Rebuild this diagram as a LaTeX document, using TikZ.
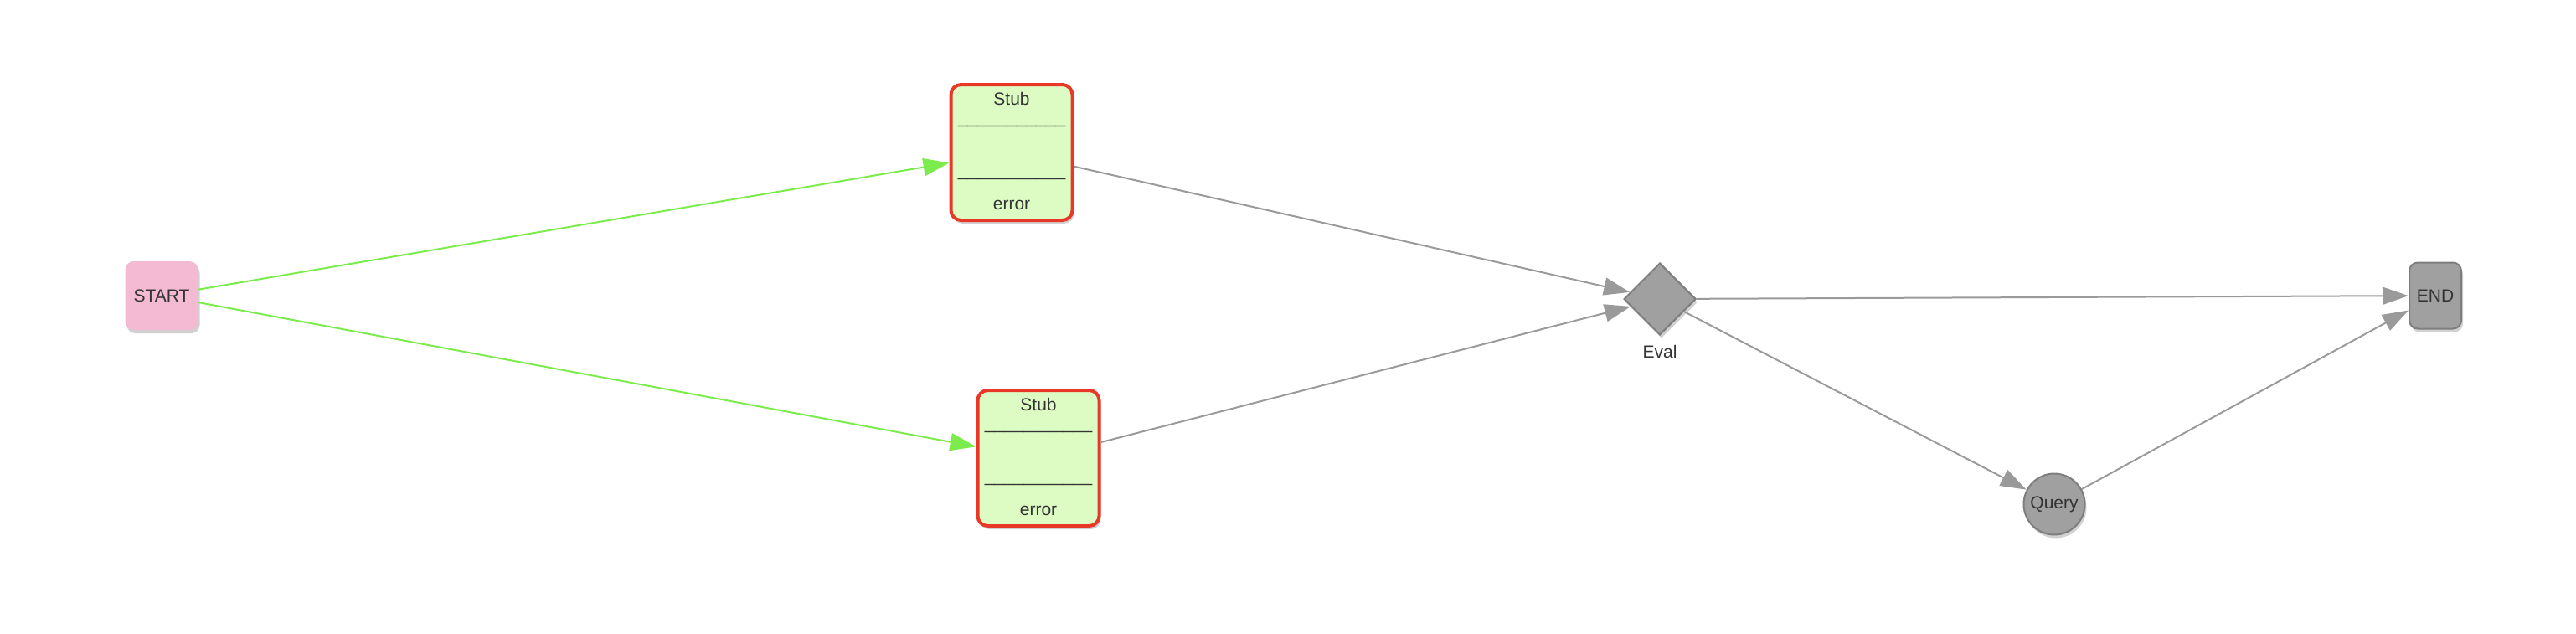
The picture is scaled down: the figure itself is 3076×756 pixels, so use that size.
\documentclass[tikz,border=0pt]{standalone}
\usepackage{fontspec}
\setmainfont{Liberation Sans}
\usetikzlibrary{arrows.meta,shapes.geometric,shadows}
\definecolor{txt}{HTML}{333333}
\definecolor{startfill}{HTML}{F4BAD4}
\definecolor{stubfill}{HTML}{DCFCC4}
\definecolor{stubborder}{HTML}{E83828}
\definecolor{grayfill}{HTML}{A0A0A0}
\definecolor{grayborder}{HTML}{7E7E7E}
\definecolor{greenedge}{HTML}{7CEC4C}
\definecolor{grayedge}{HTML}{9A9A9A}
\tikzset{
  shad/.style={drop shadow={shadow xshift=2pt,shadow yshift=-4pt,opacity=0.18,fill=black}},
  lbl/.style={text=txt,font=\fontsize{21}{25}\selectfont,inner sep=0pt},
  startbox/.style={shad,rectangle,rounded corners=10pt,fill=startfill,draw=none,minimum width=87pt,minimum height=82pt,lbl},
  stubbox/.style={shad,rectangle,rounded corners=12pt,fill=stubfill,draw=stubborder,line width=4pt,minimum width=145pt,minimum height=162pt,inner sep=0pt},
  endbox/.style={shad,rectangle,rounded corners=10pt,fill=grayfill,draw=grayborder,line width=2pt,minimum width=62pt,minimum height=79pt,lbl},
  evalshape/.style={shad,diamond,fill=grayfill,draw=grayborder,line width=2pt,minimum width=86pt,minimum height=86pt,inner sep=0pt},
  querycircle/.style={shad,circle,fill=grayfill,draw=grayborder,line width=2pt,minimum size=73pt,lbl},
  greenarrow/.style={draw=greenedge,line width=2pt,-{Triangle[length=31pt,width=21pt]}},
  grayarrow/.style={draw=grayedge,line width=2pt,-{Triangle[length=31pt,width=21pt]}},
}
\newcommand{\sepline}{\_\_\_\_\_\_\_\_\_\_\_}
\begin{document}
\begin{tikzpicture}[x=1pt,y=-1pt]
\useasboundingbox (0,0) rectangle (3076,756);
\node[startbox] (start) at (193,353) {START};
\node[stubbox] (stubA) at (1208,182) {};
\node[lbl] (stubAtitle) at ([yshift=64pt]stubA.center) {Stub};
\node[lbl,anchor=base] (stubAsep1) at ([yshift=34.5pt]stubA.center) {\sepline};
\node[lbl,anchor=base] (stubAsep2) at ([yshift=-28.5pt]stubA.center) {\sepline};
\node[lbl] (stubAerr) at ([yshift=-63pt]stubA.center) {error};
\node[stubbox] (stubB) at (1240,547) {};
\node[lbl] (stubBtitle) at ([yshift=64pt]stubB.center) {Stub};
\node[lbl,anchor=base] (stubBsep1) at ([yshift=34.5pt]stubB.center) {\sepline};
\node[lbl,anchor=base] (stubBsep2) at ([yshift=-28.5pt]stubB.center) {\sepline};
\node[lbl] (stubBerr) at ([yshift=-63pt]stubB.center) {error};
\node[evalshape] (eval) at (1982,357) {};
\node[lbl] (evallabel) at (1982,420) {Eval};
\node[endbox] (end) at (2908,353) {END};
\node[querycircle] (query) at (2453,602) {Query};
\draw[greenarrow] (start) -- (stubA);
\draw[greenarrow] (start) -- (stubB);
\draw[grayarrow] (stubA) -- (eval);
\draw[grayarrow] (stubB) -- (eval);
\draw[grayarrow] (eval) -- (end);
\draw[grayarrow] (eval) -- (query);
\draw[grayarrow] (query) -- (end);
\end{tikzpicture}
\end{document}
